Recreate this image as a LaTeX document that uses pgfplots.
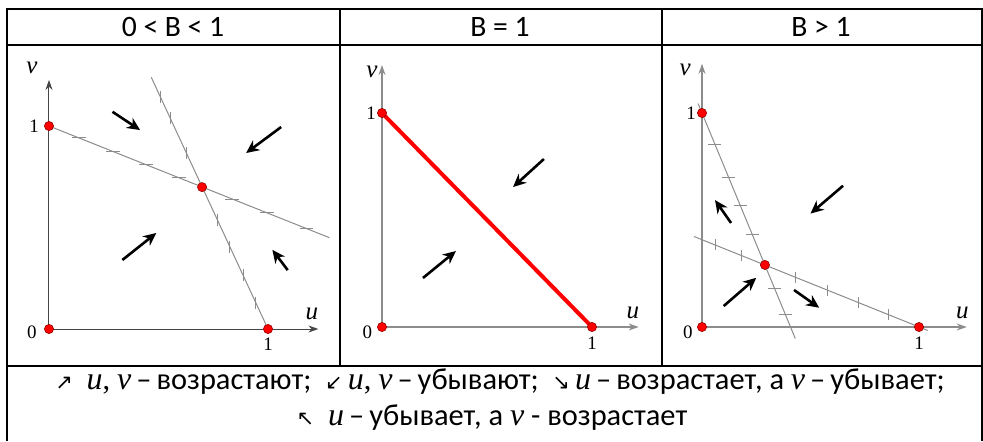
\documentclass[border=0pt]{standalone}
\usepackage{pgfplots}
\pgfplotsset{compat=1.18}
\usepackage{fontspec}
\setmainfont{Carlito}
\newfontfamily\tms{Liberation Serif}
\newfontfamily\djv{DejaVu Sans}
\usetikzlibrary{arrows.meta}
\definecolor{axgray}{RGB}{70,70,70}
\definecolor{lngray}{RGB}{140,140,140}
\definecolor{dotedge}{RGB}{150,0,0}
\newcommand\uu{{\tms\itshape\fontsize{16}{17}\selectfont u}}
\newcommand\vv{{\tms\itshape\fontsize{16}{17}\selectfont v}}
\newcommand\ar[1]{{\djv\fontsize{10.5}{11}\selectfont #1}}
\tikzset{
  lab/.style={font=\tms\fontsize{9.5}{11}\selectfont},
  vlab/.style={font=\tms\itshape\fontsize{12.5}{14}\selectfont},
}
\pgfplotsset{
  panel/.style={
    anchor=origin, clip=false,
    axis lines=left,
    axis line style={-{Stealth[length=5pt,width=3.5pt]}, axgray, line width=0.5pt},
    xtick=\empty, ytick=\empty,
    xmin=0, ymin=0,
  },
  nullc/.style={lngray, line width=0.5pt, no marks},
  tk/.style={only marks, lngray, mark options={line width=0.5pt}},
  dots/.style={only marks, mark=*, mark size=2.3pt, mark options={fill=red, draw=dotedge, line width=0.3pt}},
  flow/.style={black, line width=1.3pt, no marks, -{Stealth[length=6.5pt,width=6pt]}},
}
\begin{document}
\begin{tikzpicture}[x=0.5pt,y=0.5pt]
\path[use as bounding box] (0,0) rectangle (983,441);
% table grid
\begin{scope}[line width=1pt]
\draw (7,0) -- (7,432) -- (983,432);
\draw (982,432) -- (982,0);
\draw (7,396) -- (983,396);
\draw (7,75.5) -- (983,75.5);
\draw (340,432) -- (340,75.5);
\draw (662,432) -- (662,75.5);
\end{scope}
\node[font=\fontsize{14.8}{17}\selectfont] at (173,414) {0 < B < 1};
\node[font=\fontsize{14.8}{17}\selectfont] at (500,414) {B = 1};
\node[font=\fontsize{14.8}{17}\selectfont] at (821,414) {B > 1};

% ---------- panel 1 ----------
\begin{axis}[panel, at={(24.5pt,56pt)}, x=109.5pt, y=101.5pt, xmax=1.23, ymax=1.227]
\addplot[nullc] coordinates {(0,1) (1.28,0.45)};
\addplot[nullc] coordinates {(0.467,1.24) (1,0)};
\addplot[tk, mark=-, mark size=3.3pt] coordinates {(0.137,0.941) (0.292,0.874) (0.443,0.810) (0.594,0.745) (0.836,0.640) (0.995,0.572) (1.174,0.495)};
\addplot[tk, mark=|, mark size=3pt] coordinates {(0.508,1.143) (0.553,1.039) (0.627,0.867) (0.769,0.537) (0.826,0.404) (0.886,0.266) (0.945,0.128)};
\addplot[flow] coordinates {(0.29,1.07) (0.416,0.98)};
\addplot[flow] coordinates {(1.06,0.995) (0.90,0.867)};
\addplot[flow] coordinates {(0.335,0.34) (0.49,0.473)};
\addplot[flow] coordinates {(1.09,0.29) (1.02,0.39)};
\addplot[dots] coordinates {(0,0) (1,0) (0,1) (0.699,0.699)};
\node[lab] at (axis cs:-0.078,-0.015) {0};
\node[lab] at (axis cs:-0.068,1) {1};
\node[lab] at (axis cs:1,-0.074) {1};
\node[vlab] at (axis cs:-0.078,1.286) {v};
\node[vlab] at (axis cs:1.20,0.074) {u};
\end{axis}

% ---------- panel 2 ----------
\begin{axis}[panel, at={(191pt,57pt)}, x=105pt, y=107pt, xmax=1.222, ymax=1.224,
  axis line style={-{Stealth[length=5pt,width=3.5pt]}, lngray, line width=0.6pt}]
\addplot[red, line width=2pt, no marks] coordinates {(0,1) (1,0)};
\addplot[flow] coordinates {(0.771,0.785) (0.624,0.654)};
\addplot[flow] coordinates {(0.195,0.229) (0.352,0.355)};
\addplot[dots] coordinates {(0,0) (1,0) (0,1)};
\node[lab] at (axis cs:-0.07,-0.023) {0};
\node[lab] at (axis cs:-0.052,1) {1};
\node[lab] at (axis cs:1,-0.075) {1};
\node[vlab] at (axis cs:-0.048,1.19) {v};
\node[vlab] at (axis cs:1.195,0.065) {u};
\end{axis}

% ---------- panel 3 ----------
\begin{axis}[panel, at={(351pt,57pt)}, x=108.5pt, y=107pt, xmax=1.22, ymax=1.23,
  axis line style={-{Stealth[length=5pt,width=3.5pt]}, lngray, line width=0.6pt}]
\addplot[nullc] coordinates {(-0.018,1.044) (0.43,-0.054)};
\addplot[nullc] coordinates {(-0.037,0.423) (1.04,-0.016)};
\addplot[tk, mark=-, mark size=3.3pt] coordinates {(0.059,0.855) (0.122,0.70) (0.176,0.57) (0.233,0.43) (0.335,0.18) (0.384,0.06)};
\addplot[tk, mark=|, mark size=2.7pt] coordinates {(0.06,0.384) (0.18,0.335) (0.43,0.233) (0.58,0.171) (0.72,0.114) (0.86,0.057)};
\addplot[flow] coordinates {(0.65,0.66) (0.50,0.53)};
\addplot[flow] coordinates {(0.134,0.486) (0.06,0.593)};
\addplot[flow] coordinates {(0.10,0.098) (0.25,0.23)};
\addplot[flow] coordinates {(0.424,0.173) (0.54,0.09)};
\addplot[dots] coordinates {(0,0) (1,0) (0,1) (0.29,0.29)};
\node[lab] at (axis cs:-0.065,-0.023) {0};
\node[lab] at (axis cs:-0.05,1) {1};
\node[lab] at (axis cs:1,-0.075) {1};
\node[vlab] at (axis cs:-0.078,1.2) {v};
\node[vlab] at (axis cs:1.2,0.065) {u};
\end{axis}

% legend text
\node[font=\fontsize{15.2}{17}\selectfont] at (500,59) {\ar{↗}\ \ \uu{\tms,} \vv{}\,–\,возрастают; \ \ar{↙}\,\uu{\tms,} \vv{}\,–\,убывают; \ \ar{↘}\,\uu{}\,–\,возрастает, а \vv{}\,–\,убывает;};
\node[font=\fontsize{15.2}{17}\selectfont] at (492,23) {\ar{↖}\ \ \uu{}\,–\,убывает, а \vv{} - возрастает};
\end{tikzpicture}
\end{document}
